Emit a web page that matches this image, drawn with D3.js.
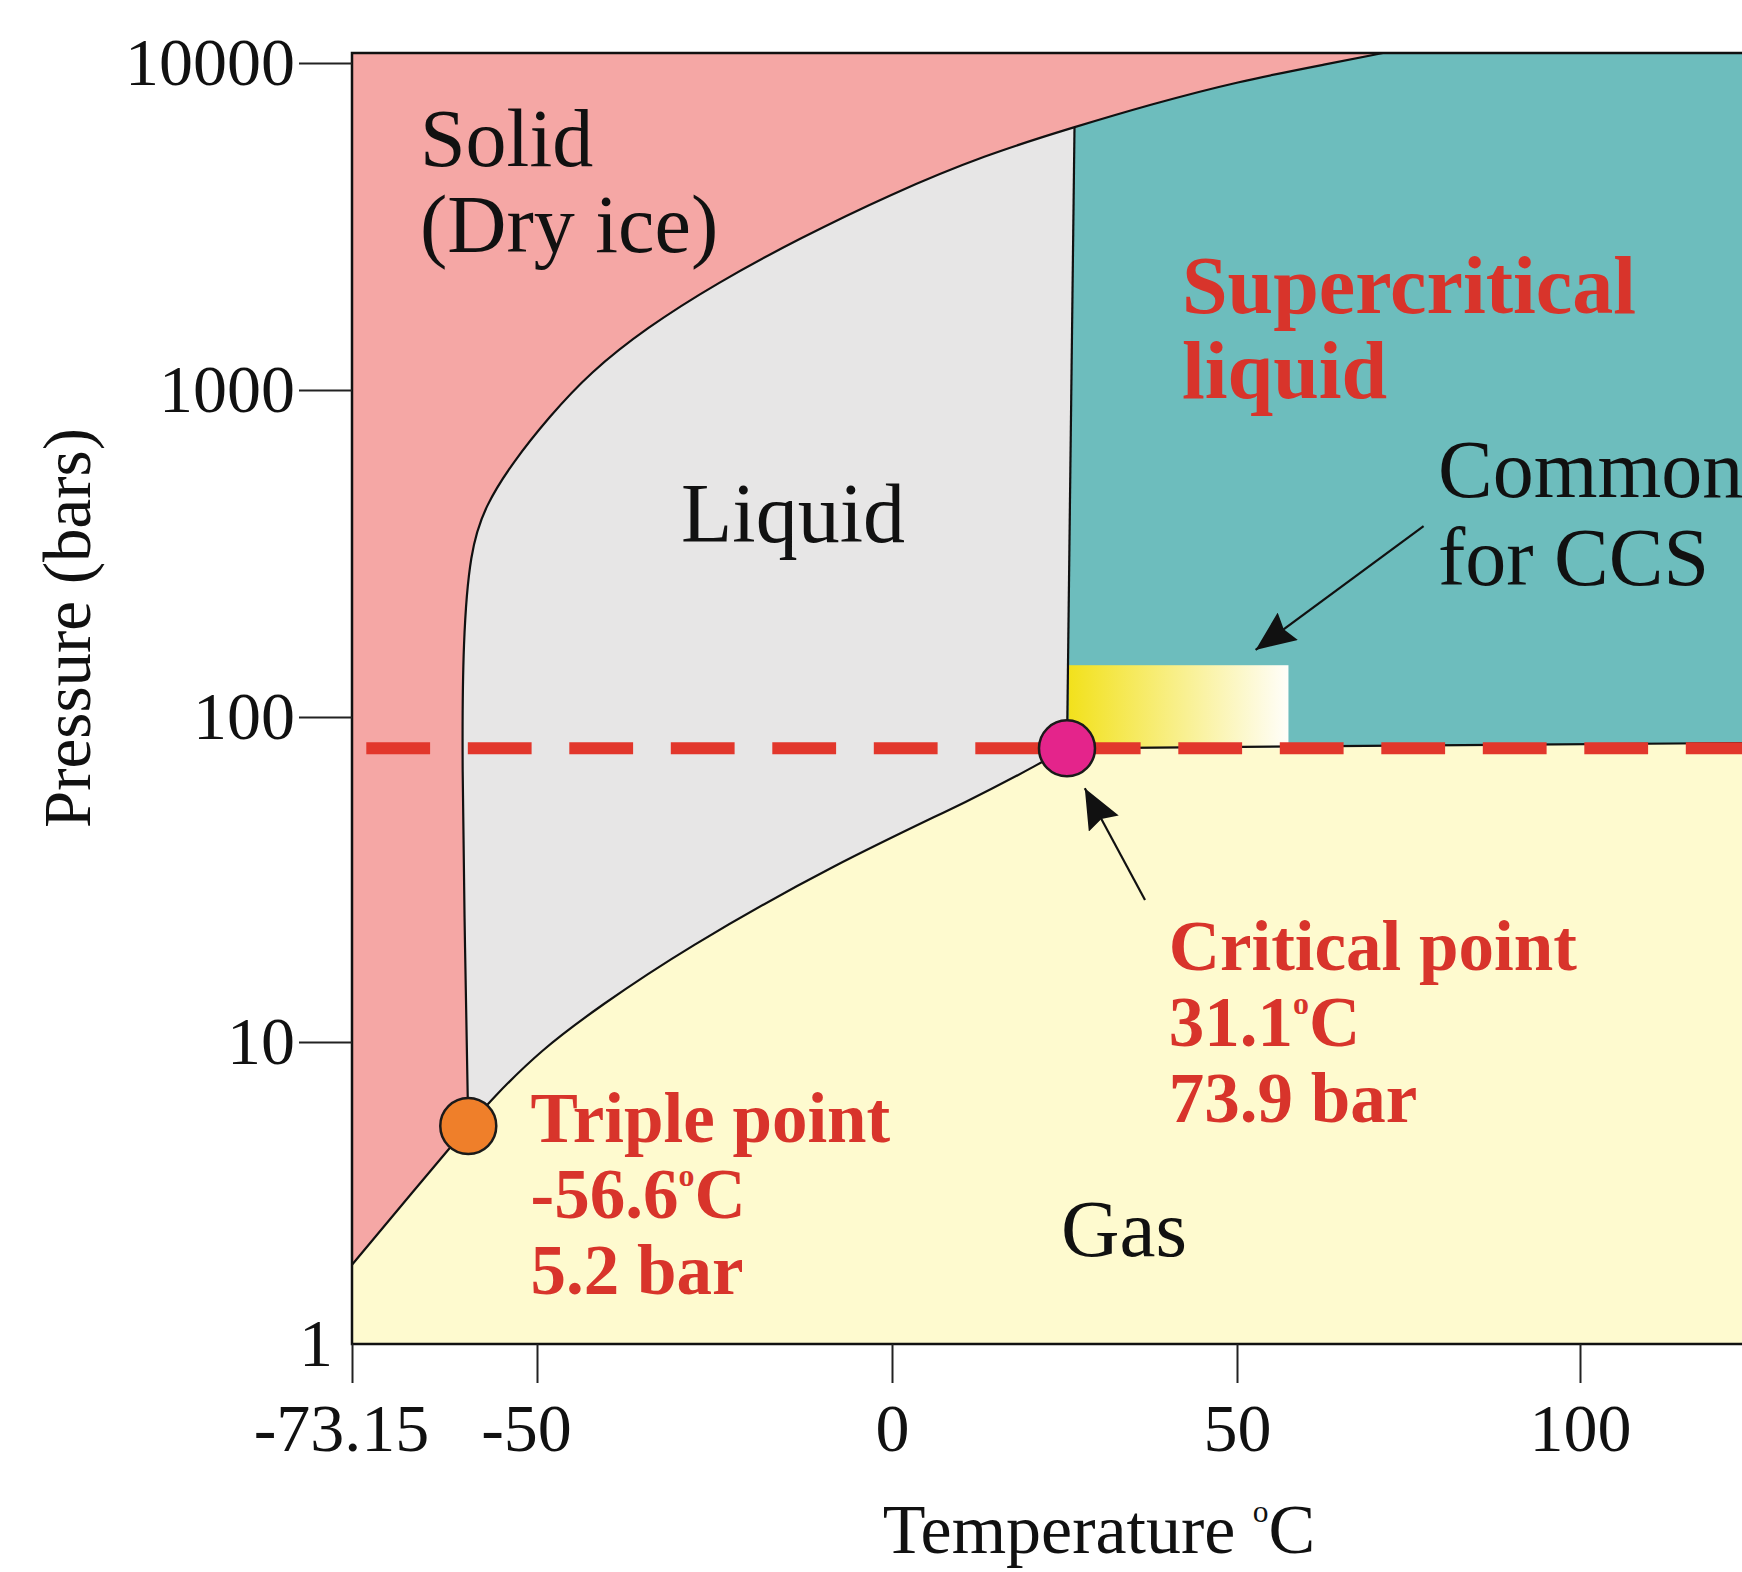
<!DOCTYPE html>
<html>
<head>
<meta charset="utf-8">
<script src="https://cdn.jsdelivr.net/npm/d3@7"></script>
<style>
  body { margin: 0; background: #fff; }
  svg { display: block; }
  text { font-family: "Liberation Serif", "Times New Roman", serif; }
</style>
</head>
<body>
<svg width="1742" height="1572"></svg>
<script>
// axis ticks: temperature (°C) and pressure (bars)
var tempTicks = [-73.15, -50, 0, 50, 100];
var pressTicks = [1, 10, 100, 1000, 10000];
var pressMax = 10730;   // top edge of the plot

// phase boundaries, [temperature, pressure]
var sublimation = [[-73.15, 1.83], [-65.89, 3.11], [-58.6, 5.27]];
var melting = [[-58.6, 5.27], [-59.01, 19.2], [-59.38, 73.8], [-59.26, 172], [-58.38, 322],
               [-56.51, 442], [-53.0, 602], [-48.31, 827], [-42.54, 1131], [-34.65, 1547],
               [-24.65, 2125], [-13.1, 2904], [-0.14, 3976], [13.48, 5233], [26.45, 6373],
               [37.39, 7460], [49.94, 8766], [63.7, 9980], [71.28, 10730]];
var vaporization = [[-58.6, 5.27], [-55.76, 6.43], [-49.48, 9.41], [-41.13, 12.9], [-29.48, 19.2],
                    [-7.93, 35.5], [12.55, 56.9], [21.42, 72.0], [25.36, 80.1]];
var superEdge = [[25.36, 80.1], [26.45, 6373]];
var gasEdge = [[25.36, 80.1], [124, 83.2]];

var triplePoint = [-58.6, 5.27];
var criticalPoint = [25.36, 80.1];
var dashStartT = -71.36;
var ccsT = [25.6, 57.5], ccsP = [80.1, 144];

// annotations anchored in data space
var regionLabels = [
  {lines: ["Solid", "(Dry ice)"], at: [-64.64, 4842], kind: "region"},
  {lines: ["Liquid"], at: [-29.72, 343], kind: "liquid"},
  {lines: ["Gas"], at: [24.5, 1.956], kind: "gas"},
  {lines: ["Supercritical", "liquid"], at: [42.03, 1720], kind: "super"},
  {lines: ["Common", "for CCS"], at: [79.3, 471], kind: "ccs"},
  {lines: ["Critical point", "31.1°C", "73.9 bar"], at: [40.1, 16.65], kind: "point"},
  {lines: ["Triple point", "-56.6°C", "5.2 bar"], at: [-50.8, 4.666], kind: "point"}
];
var arrows = [
  {from: [77.2, 383.7], to: [52.71, 160.3]},
  {from: [36.67, 27.35], to: [27.94, 60.34]}
];

var labelStyle = {
  region: {size: 82, lh: 86, bold: false, fill: "#111"},
  liquid: {size: 84, lh: 86, bold: false, fill: "#111"},
  gas:    {size: 81, lh: 86, bold: false, fill: "#111"},
  super:  {size: 82, lh: 85, bold: true,  fill: "#d8342b"},
  ccs:    {size: 82, lh: 88, bold: false, fill: "#111"},
  point:  {size: 71, lh: 76, bold: true,  fill: "#d8342b"}
};

var svg = d3.select("svg"),
    width = +svg.attr("width"),
    height = +svg.attr("height");

var x = d3.scaleLinear().domain(tempTicks).range([352, 537, 892, 1237, 1580]);
var y = d3.scaleLog().domain(pressTicks).range([1344, 1042, 717, 390, 63]);

var tMin = tempTicks[0], tMax = x.invert(width);

var line = d3.line().x(function(d) { return x(d[0]); }).y(function(d) { return y(d[1]); });
var smooth = d3.line().x(function(d) { return x(d[0]); }).y(function(d) { return y(d[1]); })
               .curve(d3.curveBasis);

// chain several path strings into one
function join() {
  return Array.prototype.map.call(arguments, function(s, i) {
    return i ? s.replace(/^M/, "L") : s;
  }).join("");
}

var defs = svg.append("defs");
defs.append("clipPath").attr("id", "plot")
  .append("rect")
  .attr("x", x(tMin)).attr("y", y(pressMax))
  .attr("width", width - x(tMin)).attr("height", y(1) - y(pressMax));

var grad = defs.append("linearGradient").attr("id", "ccsGrad");
grad.append("stop").attr("offset", "0%").attr("stop-color", "#f2e11c");
grad.append("stop").attr("offset", "100%").attr("stop-color", "#fffefa");

defs.append("marker").attr("id", "head")
  .attr("markerUnits", "userSpaceOnUse")
  .attr("viewBox", "0 0 40 34")
  .attr("markerWidth", 40).attr("markerHeight", 34)
  .attr("refX", 40).attr("refY", 17)
  .attr("orient", "auto")
  .append("path").attr("d", "M0,0L40,17L0,34L5,17Z").attr("fill", "#111");

var g = svg.append("g").attr("clip-path", "url(#plot)");

// supercritical = everything left over
g.append("rect")
  .attr("x", x(tMin)).attr("y", y(pressMax))
  .attr("width", width - x(tMin)).attr("height", y(1) - y(pressMax))
  .attr("fill", "#6dbdbd");

var junction = melting.findIndex(function(d) { return d[0] === superEdge[1][0]; });
var meltLow = melting.slice(0, junction + 2);

g.append("path")
  .attr("d", join(smooth(meltLow), line(superEdge.slice().reverse()),
                  smooth(vaporization.slice().reverse())) + "Z")
  .attr("fill", "#e7e6e6");

g.append("path")
  .attr("d", join(line([[tMin, pressMax], [tMin, sublimation[0][1]]]), line(sublimation),
                  smooth(melting)) + "Z")
  .attr("fill", "#f5a7a5");

g.append("path")
  .attr("d", join(line([[tMin, 1], [tMin, sublimation[0][1]]]), line(sublimation),
                  smooth(vaporization), line(gasEdge),
                  line([[gasEdge[1][0], 1]])) + "Z")
  .attr("fill", "#fefacf");

g.append("rect")
  .attr("x", x(ccsT[0])).attr("y", y(ccsP[1]))
  .attr("width", x(ccsT[1]) - x(ccsT[0])).attr("height", y(ccsP[0]) - y(ccsP[1]))
  .attr("fill", "url(#ccsGrad)");

// boundary lines
[[sublimation, line], [melting, smooth], [vaporization, smooth], [superEdge, line], [gasEdge, line]]
  .forEach(function(b) {
    g.append("path").attr("d", b[1](b[0]))
      .attr("fill", "none").attr("stroke", "#111").attr("stroke-width", 2.2);
  });

g.append("path")
  .attr("d", line([[dashStartT, criticalPoint[1]], [tMax, criticalPoint[1]]]))
  .attr("stroke", "#e2372c").attr("stroke-width", 12)
  .attr("stroke-dasharray", "63.8 37.7");

// frame
svg.append("path")
  .attr("d", "M" + width + "," + y(pressMax) + "H" + x(tMin) + "V" + y(1) + "H" + width)
  .attr("fill", "none").attr("stroke", "#111").attr("stroke-width", 2.5);

// triple and critical points
svg.selectAll("circle.pt")
  .data([{p: triplePoint, c: "#ef7f2a"}, {p: criticalPoint, c: "#e4248b"}])
  .enter().append("circle")
  .attr("class", "pt")
  .attr("cx", function(d) { return x(d.p[0]); })
  .attr("cy", function(d) { return y(d.p[1]); })
  .attr("r", 28)
  .attr("fill", function(d) { return d.c; })
  .attr("stroke", "#1a1a1a").attr("stroke-width", 2.5);

svg.selectAll("line.arrow")
  .data(arrows)
  .enter().append("line")
  .attr("class", "arrow")
  .attr("x1", function(d) { return x(d.from[0]); })
  .attr("y1", function(d) { return y(d.from[1]); })
  .attr("x2", function(d) { return x(d.to[0]); })
  .attr("y2", function(d) { return y(d.to[1]); })
  .attr("stroke", "#111").attr("stroke-width", 2.2)
  .attr("marker-end", "url(#head)");

// text with a raised small "o" in place of the degree sign
function writeText(t, s, fs) {
  var parts = s.split("°");
  t.append("tspan").text(parts[0]);
  if (parts.length > 1) {
    t.append("tspan").attr("font-size", fs * 0.45).attr("dy", -fs * 0.45).text("o");
    t.append("tspan").attr("dy", fs * 0.45).text(parts[1]);
  }
}

regionLabels.forEach(function(lab) {
  var st = labelStyle[lab.kind];
  lab.lines.forEach(function(s, i) {
    var t = svg.append("text")
      .attr("x", x(lab.at[0]))
      .attr("y", y(lab.at[1]) + i * st.lh)
      .attr("font-size", st.size)
      .attr("font-weight", st.bold ? "bold" : "normal")
      .attr("fill", st.fill);
    writeText(t, s, st.size);
  });
});

// axes
var yAxis = svg.append("g")
  .attr("transform", "translate(" + x(tMin) + ",0)")
  .call(d3.axisLeft(y).tickValues(pressTicks).tickSize(53).tickPadding(4)
          .tickFormat(function(d) { return String(d); }));
yAxis.select(".domain").remove();
yAxis.attr("font-size", 68).attr("font-family", null);
yAxis.selectAll("text").attr("fill", "#111");
yAxis.selectAll("line").attr("stroke", "#222").attr("stroke-width", 2);
var bottomTick = yAxis.selectAll(".tick").filter(function(d) { return d === 1; });
bottomTick.select("line").remove();
bottomTick.select("text").attr("x", -19);

var xAxis = svg.append("g")
  .attr("transform", "translate(0," + y(1) + ")")
  .call(d3.axisBottom(x).tickValues(tempTicks).tickSize(39).tickPadding(20)
          .tickFormat(function(d) { return String(d); }));
xAxis.select(".domain").remove();
xAxis.attr("font-size", 68).attr("font-family", null);
xAxis.selectAll("text").attr("fill", "#111")
  .attr("dx", function(d) { return d < 0 ? -11 : 0; });
xAxis.selectAll("line").attr("stroke", "#222").attr("stroke-width", 2);

var xt = svg.append("text")
  .attr("x", 1099).attr("y", 1553)
  .attr("text-anchor", "middle").attr("font-size", 70).attr("fill", "#111");
writeText(xt, "Temperature °C", 70);

svg.append("text")
  .attr("transform", "translate(90,628) rotate(-90)")
  .attr("text-anchor", "middle").attr("font-size", 67).attr("fill", "#111")
  .text("Pressure (bars)");
</script>
</body>
</html>
